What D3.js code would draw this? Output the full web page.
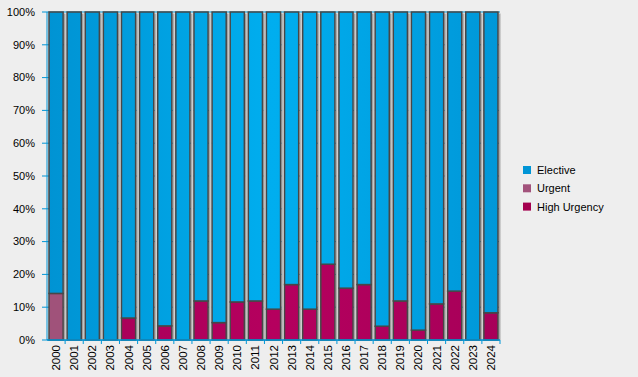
<!DOCTYPE html>
<html>
<head>
<meta charset="utf-8">
<script src="https://cdn.jsdelivr.net/npm/d3@7"></script>
<style>
  body { margin: 0; background: #eeeeee; }
  svg { display: block; font-family: "Liberation Sans", Arial, sans-serif; }
</style>
</head>
<body>
<svg id="chart" width="638" height="377"></svg>
<script>
const years = ["2000","2001","2002","2003","2004","2005","2006","2007","2008","2009","2010","2011","2012",
  "2013","2014","2015","2016","2017","2018","2019","2020","2021","2022","2023","2024"];
// percentages of each year's total
const highUrgency = [0,0,0,0,6.7,0,4.3,0,11.9,5.3,11.6,11.9,9.4,16.9,9.4,23.1,15.8,16.9,4.2,11.9,3.0,11.0,14.9,0,8.3];
const urgent = [14.2,0,0,0,0,0,0,0,0,0,0,0,0,0,0,0,0,0,0,0,0,0,0,0,0];
const elective = years.map((y, i) => 100 - highUrgency[i] - urgent[i]);
const seriesNames = ["Elective", "Urgent", "High Urgency"];
const legendColors = ["#0095d6", "#a2527b", "#a4004f"];
const yTicks = [0,10,20,30,40,50,60,70,80,90,100];

const margin = { left: 47, right: 138, top: 12, bottom: 37 };
const width = 638 - margin.left - margin.right;
const height = 377 - margin.top - margin.bottom;

const svg = d3.select("#chart");
const defs = svg.append("defs");

function addGradient(id, stops, local) {
  const g = defs.append("linearGradient").attr("id", id);
  if (local) {
    g.attr("x1", 0).attr("x2", 1).attr("y1", 0).attr("y2", 0);
  } else {
    g.attr("gradientUnits", "userSpaceOnUse")
      .attr("x1", 0).attr("x2", width).attr("y1", 0).attr("y2", 0);
  }
  stops.forEach(([o, c]) => g.append("stop").attr("offset", o).attr("stop-color", c));
}
addGradient("blueGrad", [[0, "#0093d3"], [0.5, "#00aeef"], [1, "#0097d8"]]);
addGradient("redGrad", [[0, "#a50058"], [0.5, "#b5005e"], [1, "#a70059"]]);
addGradient("shadowGrad", [[0, "#8c8c8c"], [0.35, "#b4b4b4"], [1, "#f6f6f6"]], true);

const g = svg.append("g").attr("transform", `translate(${margin.left},${margin.top})`);

const x = d3.scaleBand().domain(years).range([0, width]).paddingInner(0.22).paddingOuter(0.11);
const xb = d3.scaleBand().domain(years).range([0, width]);
const y = d3.scaleLinear().domain([0, 100]).range([height, 0]);

// gridlines
g.append("g")
  .selectAll("line")
  .data(yTicks)
  .join("line")
  .attr("x1", -5)
  .attr("x2", width)
  .attr("y1", (d) => y(d))
  .attr("y2", (d) => y(d))
  .attr("stroke", "#0095d6")
  .attr("stroke-width", 1);

// stacked data
const rows = years.map((yr, i) => ({ year: yr, hu: highUrgency[i], ur: urgent[i], el: elective[i] }));
const stack = d3.stack().keys(["hu", "ur", "el"])(rows);
const fills = { hu: "url(#redGrad)", ur: "#a0527a", el: "url(#blueGrad)" };

// shadows, to the right of each bar
g.append("g")
  .selectAll("rect")
  .data(rows)
  .join("rect")
  .attr("x", (d) => x(d.year) + x.bandwidth() + 0.75)
  .attr("y", y(100) + 1.5)
  .attr("width", 3)
  .attr("height", height - 1.5)
  .attr("fill", "url(#shadowGrad)");

stack.forEach((layer) => {
  g.append("g")
    .selectAll("rect")
    .data(layer.filter((d) => d[1] - d[0] > 0))
    .join("rect")
    .attr("x", (d) => x(d.data.year))
    .attr("y", (d) => y(d[1]))
    .attr("width", x.bandwidth())
    .attr("height", (d) => y(d[0]) - y(d[1]))
    .attr("fill", fills[layer.key])
    .attr("stroke", "#474747")
    .attr("stroke-width", 1.5);
});

// y axis
const yAxis = g.append("g");
yAxis.append("line")
  .attr("x1", 0).attr("x2", 0).attr("y1", 0).attr("y2", height)
  .attr("stroke", "#0095d6");
yAxis.selectAll("text")
  .data(yTicks)
  .join("text")
  .attr("x", -12)
  .attr("y", (d) => y(d))
  .attr("dy", "0.35em")
  .attr("text-anchor", "end")
  .attr("font-size", 11)
  .attr("fill", "#000")
  .text((d) => d + "%");

// x axis
const xAxis = g.append("g").attr("transform", `translate(0,${height})`);
xAxis.append("line")
  .attr("x1", 0).attr("x2", width)
  .attr("stroke", "#0095d6").attr("stroke-width", 1.5);
xAxis.selectAll(".tick")
  .data(years)
  .join("line")
  .attr("x1", (d) => xb(d) + xb.bandwidth())
  .attr("x2", (d) => xb(d) + xb.bandwidth())
  .attr("y1", 0).attr("y2", 4)
  .attr("stroke", "#0095d6");
xAxis.selectAll("text")
  .data(years)
  .join("text")
  .attr("transform", (d) => `translate(${xb(d) + xb.bandwidth() / 2 + 4},5) rotate(-90)`)
  .attr("text-anchor", "end")
  .attr("font-size", 11.5)
  .attr("fill", "#000")
  .text((d) => d);

// legend
const legend = svg.append("g").attr("transform", "translate(523,166)");
const item = legend.selectAll("g")
  .data(seriesNames)
  .join("g")
  .attr("transform", (d, i) => `translate(0,${i * 18.3})`);
item.append("rect")
  .attr("width", 8).attr("height", 8)
  .attr("fill", (d, i) => legendColors[i]);
item.append("text")
  .attr("x", 14).attr("y", 8)
  .attr("font-size", 11)
  .attr("fill", "#000")
  .text((d) => d);
</script>
</body>
</html>
